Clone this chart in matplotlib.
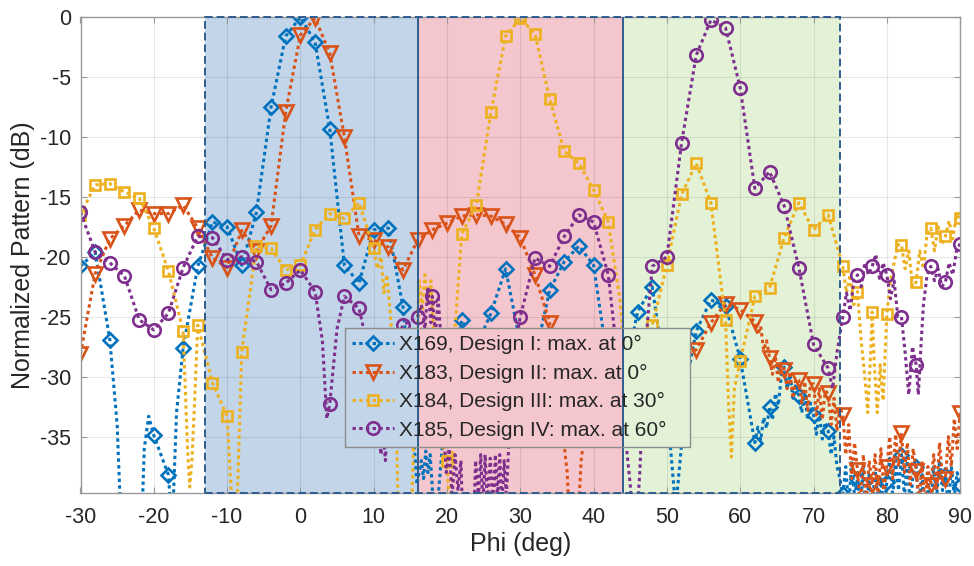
import matplotlib
matplotlib.use("Agg")
import matplotlib.pyplot as plt
from matplotlib.lines import Line2D
from matplotlib.patches import Rectangle

plt.rcParams['font.family'] = ['Liberation Sans', 'DejaVu Sans']
plt.rcParams['axes.unicode_minus'] = False

# ---------------- data ----------------
labels = ["X169, Design I: max. at 0°", "X183, Design II: max. at 0°",
          "X184, Design III: max. at 30°", "X185, Design IV: max. at 60°"]

phi_x169 = [-30, -28, -26, -25, -24.3, -21.8, -21.3, -20.7, -20, -18, -17.5, -16.9, -16,
            -14, -12, -10, -8, -6, -4, -2, 0, 2, 4, 6, 8, 10, 12, 14,
            15, 15.9, 16.5, 16.8, 17.1, 17.4, 17.7, 18.4, 20, 22, 24, 26, 28, 29.6, 31, 32.5, 34, 36, 38, 40,
            41.5, 43, 44.5, 46, 48, 49.3, 50.5, 51.2, 51.8, 52.8, 54, 56, 58, 60, 61, 62,
            62.4, 62.8, 63.2, 63.6, 64, 64.4, 64.8, 65.2, 65.6, 66, 66.4, 66.8, 67.2, 67.6, 68,
            68.4, 68.8, 69.2, 69.6, 70, 70.4, 70.8, 71.2, 71.6, 72, 72.4, 72.8, 73.2, 73.6, 74,
            74.4, 74.8, 75.2, 75.6, 76, 76.4, 76.8, 77.2, 77.6, 78, 78.4, 78.8, 79.2, 79.6, 80,
            80.4, 80.8, 81.2, 81.6, 82, 82.4, 82.8, 83.2, 83.6, 84, 84.4, 84.8, 85.2, 85.6, 86,
            86.4, 86.8, 87.2, 87.6, 88, 88.4, 88.8, 89.2, 89.6, 90]
db_x169 = [-20.8, -19.6, -26.9, -34, -45, -45, -36, -33.3, -34.9, -38.2, -43, -33, -27.6,
           -20.8, -17.1, -17.5, -20.7, -16.3, -7.5, -1.6, 0, -2.1, -9.3, -20.7, -22.2, -17.75, -17.6, -24.2,
           -31, -39, -37, -38.5, -36.2, -38, -36.5, -43, -31, -25.3, -27.5, -24.7, -21.0, -26, -31, -27, -22.8, -20.4, -19.1, -20.7,
           -27, -33, -29, -24.6, -22.5, -28, -36, -41, -37, -30, -26.2, -23.6, -24.1, -28.5, -32, -35.5,
           -34.2, -35.3, -33.4, -34.3, -32.5, -33.6, -31.4, -32.4, -30.0, -29.2, -31.0, -29.8, -31.8, -30.6, -31.6,
           -33.0, -31.4, -33.6, -32.2, -33.2, -34.8, -33.0, -35.2, -33.8, -34.5, -36.5, -35.0, -37.5, -38.5, -39.8,
           -37.5, -41, -37, -40, -38.5, -41, -37.5, -42, -38, -41, -37.8, -40.5, -38.5, -41, -38.8,
           -36.8, -40, -37, -39.5, -36.5, -40, -37, -41, -38, -37.5, -41, -38, -42, -38.5, -41,
           -37.5, -40, -37, -39.5, -38.2, -41, -37.5, -40, -38, -39]

phi_x183 = [-30, -28, -26, -24, -22, -20, -18, -16, -14, -12, -10, -8, -6, -4, -2, 0, 2, 4, 6, 8,
            10, 12, 14, 16, 18, 20, 22, 24, 26, 28, 30, 32, 34,
            35.5, 36.4, 36.9, 37.6, 38.3, 39.5, 42, 44, 46, 48, 50, 52, 54, 56, 58, 60, 62,
            62.4, 62.8, 63.2, 63.6, 64, 64.4, 64.8, 65.2, 65.6, 66, 66.4, 66.8, 67.2, 67.6, 68,
            68.4, 68.8, 69.2, 69.6, 70, 70.4, 70.8, 71.2, 71.6, 72, 72.4, 72.8, 73.2, 73.6, 74,
            74.4, 74.8, 75.2, 75.6, 76, 76.4, 76.8, 77.2, 77.6, 78, 78.4, 78.8, 79.2, 79.6, 80,
            80.4, 80.8, 81.2, 81.6, 82, 82.4, 82.8, 83.2, 83.6, 84, 84.4, 84.8, 85.2, 85.6, 86,
            86.4, 86.8, 87.2, 87.6, 88, 88.4, 88.8, 89.2, 89.6, 90]
db_x183 = [-28.1, -21.4, -18.5, -17.4, -16.1, -16.4, -16.4, -15.7, -17.6, -20.1, -20.9, -17.8, -19.5, -17.4, -7.9, -1.5, -0.1, -3.0, -10.0, -18.3,
           -18.6, -19.2, -21.1, -18.6, -17.75, -17.2, -16.6, -16.5, -16.6, -17.3, -18.4, -21.5, -25.5,
           -33, -38, -45, -45, -37, -31, -28.5, -30, -33, -31, -29.5, -28.5, -27.75, -25.5, -23.9, -24.4, -25.4,
           -26.5, -25.8, -27.8, -27.0, -28.4, -29.8, -28.3, -30.5, -29.0, -29.4, -31.0, -29.6, -31.8, -30.2, -30.3,
           -32.2, -30.4, -32.8, -30.6, -30.6, -33.2, -31.0, -33.6, -31.2, -31.4, -34.0, -31.8, -34.5, -32.5, -33.2,
           -36.5, -34, -38.5, -35.5, -37.8, -41, -36.5, -40.5, -37, -39.0, -36.5, -40, -36, -39.5, -37.5,
           -35, -38.5, -34.8, -37.5, -34.7, -38, -35.5, -39, -36, -37.9, -40.5, -37, -41, -37.5, -39,
           -36.5, -39.5, -35.5, -38.5, -38.5, -35, -37.5, -33.5, -36, -33]

phi_x184 = [-30, -28, -26, -24, -22, -20, -18, -16, -15.4, -15.1, -14.8, -14.5, -14, -12, -10, -9.4, -9.0, -8.6,
            -8, -6, -4, -2, 0, 2, 4, 6, 8, 10,
            10.5, 11, 11.4, 11.8, 12.3, 13, 13.5, 15, 15.7, 16.2, 16.6, 17, 17.4, 17.8,
            18.5, 19.5, 20, 20.4, 20.8, 21.1, 22, 24, 26, 28, 30, 32, 34, 36, 38, 40, 42,
            43.6, 44.5, 45.5, 46.5, 48, 50, 52, 54, 56, 58, 58.4, 58.8, 59.2, 60,
            62, 64, 66, 68, 70, 72, 74,
            74.5, 75, 75.5, 76, 76.5, 77, 77.4, 77.8, 78, 78.3, 78.7, 79.1, 79.5, 80,
            80.5, 81, 81.5, 82, 82.5, 83, 83.5, 84, 84.5, 85, 85.5, 86, 86.5, 87, 87.5, 88,
            88.5, 89, 89.5, 90]
db_x184 = [-16.5, -14.0, -13.9, -14.6, -15.1, -17.6, -21.2, -26.2, -36, -39.2, -37, -33, -25.7, -30.5, -33.3, -40, -45, -40,
           -27.9, -19.1, -19.3, -21.1, -20.7, -17.75, -16.4, -16.8, -15.5, -19.3,
           -21, -20, -23, -21.5, -25, -32, -45, -45, -30, -22, -24.5, -21.5, -24, -22,
           -30, -36, -37, -42, -36, -26, -18.1, -15.7, -7.9, -1.6, -0.1, -1.4, -6.8, -11.2, -12.2, -14.4, -17.1,
           -23.6, -30, -34, -31, -25.7, -20.7, -14.8, -12.2, -15.5, -25.3, -32, -36.7, -31, -28.7,
           -23.3, -22.6, -18.4, -15.5, -17.75, -16.5, -20.8,
           -23, -21.5, -24, -22.9, -27, -30, -33, -28, -24.6, -29, -33, -29, -32, -24.8,
           -22, -20.5, -19, -19.0, -21, -19.5, -22.5, -22.1, -19.5, -21, -18, -17.6, -19.5, -17.5, -19, -18.3,
           -17, -18.5, -16.5, -16.8]

phi_x185 = [-30, -28, -26, -24, -22, -20, -18, -16, -14, -12, -10, -8, -6, -4, -2, 0, 2, 3, 3.6, 4,
            5, 6, 8, 9, 10.3, 11, 11.3, 11.6, 12, 13, 14,
            16, 16.5, 17, 17.4, 17.8, 18, 18.4, 18.8, 19.2, 19.6, 19.9, 20.3, 20.7, 21.1, 21.5, 21.9, 22.3,
            23.5, 23.9, 24.3, 24.6, 24.9, 25.2, 25.5, 25.9, 26.3, 26.6, 26.9, 27.2, 27.5, 27.8, 28.1, 28.4,
            28.9, 29.4, 30,
            32, 34, 36, 38, 40, 42, 43, 44, 45, 45.6, 46.3, 47, 48, 50, 52, 54, 56, 58, 60, 62, 64, 66,
            68, 70, 72, 72.6, 73.2, 74,
            74.5, 75, 75.5, 76, 76.5, 77, 77.5, 78, 78.5, 79, 79.5, 80, 80.5, 81, 81.5, 82, 82.5, 83,
            83.5, 84, 84.3, 84.7, 85, 85.5, 86, 86.5, 87, 87.5, 88, 88.5, 89, 89.5, 90]
db_x185 = [-16.3, -19.6, -20.5, -21.6, -25.25, -26.1, -24.7, -20.9, -18.3, -18.4, -20.25, -20.0, -20.4, -22.75, -22.2, -21.1, -22.9, -27, -33.5, -32.3,
           -26, -23.3, -24.3, -27, -33, -36.5, -35, -37, -32, -27, -25.7,
           -25.0, -24, -26, -22.5, -25.5, -23.3, -26.5, -23.5, -27, -35, -38, -36, -40, -36.5, -39.5, -37, -45,
           -45, -37, -40, -36.5, -41, -36.5, -40.5, -36.8, -41, -36.5, -40, -36.5, -41, -37, -40, -36,
           -31, -27, -25.0,
           -20.1, -20.8, -18.3, -16.5, -17.1, -21.5, -27, -33, -39, -45, -38, -28, -20.8, -20.0, -10.5, -3.2, -0.25, -0.9, -5.9, -14.3, -12.9, -15.75,
           -20.9, -27.3, -29.3, -31, -28, -25.0,
           -23, -24.5, -22, -21.5, -22.5, -20.5, -21.5, -20.8, -19.8, -21.8, -20.5, -21.5, -23.5, -22, -25, -25.0, -28, -31.5,
           -27.5, -29.0, -31.5, -27, -24, -21.5, -20.8, -22, -21, -22.5, -22.1, -20.5, -21.5, -19.5, -18.9]

series_phi = [phi_x169, phi_x183, phi_x184, phi_x185]
series_db = [db_x169, db_x183, db_x184, db_x185]
for p, d in zip(series_phi, series_db):
    assert len(p) == len(d), (len(p), len(d))

# beam regions (deg)
region_edges = [-13, 16, 44, 73.6]
region_colors = ['#c2d5e9', '#f4c6cd', '#e3f2d7']

x_ticks = list(range(-30, 91, 10))
y_ticks = list(range(-35, 1, 5))
y_limits = (-39.7, 0)

# ---------------- style ----------------
colors = ['#0072BD', '#D95319', '#EDB120', '#7E2F8E']
markers = ['D', 'v', 's', 'o']
msizes = [6.8, 9.5, 6.8, 9]
LS = (0, (1.1, 1.1))
LW = 2.2
MEW = 1.9

fig = plt.figure(figsize=(9.74, 5.66), dpi=100)
ax = fig.add_axes([80.5 / 974, 1 - 493 / 566, 879.6 / 974, 476 / 566])
ax.set_xlim(x_ticks[0], x_ticks[-1])
ax.set_ylim(*y_limits)

for i in range(3):
    ax.axvspan(region_edges[i], region_edges[i + 1], facecolor=region_colors[i],
               edgecolor='none', zorder=0.1)

for p, d, c, m, s in zip(series_phi, series_db, colors, markers, msizes):
    mk = [float(v).is_integer() and int(v) % 2 == 0 for v in p]
    ax.plot(p, d, color=c, ls=LS, lw=LW, marker=m, ms=s, mfc='none', mew=MEW,
            markevery=mk, zorder=2)

ax.set_xticks(x_ticks)
ax.set_yticks(y_ticks)
ax.grid(True, color='black', alpha=0.09, lw=0.8)
ax.set_axisbelow(True)
ax.tick_params(direction='in', length=4, top=True, right=True, labelsize=15.5,
               colors='#999999', labelcolor='#262626')
ax.tick_params(axis='x', pad=10)
ax.tick_params(axis='y', pad=7)
for sp in ax.spines.values():
    sp.set_color('#999999')
    sp.set_linewidth(1.0)

ax.set_xlabel('Phi (deg)', fontsize=18, color='#262626', labelpad=3)
ax.set_ylabel('Normalized Pattern (dB)', fontsize=18, color='#262626', labelpad=3)

handles = [Line2D([], [], color=c, ls=LS, lw=LW, marker=m, ms=s, mfc='none', mew=MEW)
           for c, m, s in zip(colors, markers, msizes)]
leg = ax.legend(handles, labels, loc='upper left',
                bbox_to_anchor=(0.3007, 0.3466, 0.3922, 0.0), mode='expand',
                fontsize=15, frameon=True, fancybox=False, framealpha=1,
                borderpad=0.35, labelspacing=0.45, handlelength=2.0,
                handletextpad=0.25, borderaxespad=0.0)
leg.get_frame().set_facecolor('none')
leg.get_frame().set_edgecolor('#8c8c8c')
leg.get_frame().set_linewidth(1.0)
leg.set_zorder(5)
for t in leg.get_texts():
    t.set_color('#262626')

# region fill behind the legend (hides the data lines under it)
fig.canvas.draw()
bb = leg.get_window_extent()
inv = ax.transData.inverted()
(lx0, ly0), (lx1, ly1) = inv.transform([[bb.x0, bb.y0], [bb.x1, bb.y1]])
for i in range(3):
    a = max(region_edges[i], lx0)
    b = min(region_edges[i + 1], lx1)
    if b > a:
        ax.add_patch(Rectangle((a, ly0), b - a, ly1 - ly0, facecolor=region_colors[i],
                               edgecolor='none', zorder=3))

edge_col = '#2f5d8f'
for xb in region_edges[1:-1]:
    ax.axvline(xb, color=edge_col, lw=1.4, zorder=4)
ax.add_patch(Rectangle((region_edges[0], y_limits[0]), region_edges[-1] - region_edges[0],
                       y_limits[1] - y_limits[0], fill=False, edgecolor=edge_col,
                       lw=1.4, ls=(0, (4, 2)), zorder=4, clip_on=False))

fig.savefig('out.png', dpi=100)
